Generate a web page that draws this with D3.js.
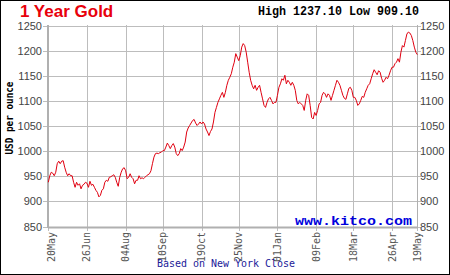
<!DOCTYPE html>
<html><head><meta charset="utf-8">
<script src="https://cdn.jsdelivr.net/npm/d3@7"></script>
<style>body{margin:0;background:#fff}svg{display:block}</style>
</head><body>
<script>
const titleText = "1 Year Gold";
const highLowText = "High 1237.10 Low 909.10";
const yLabel = "USD per ounce";
const sourceText = "Based on New York Close";
const brandText = "www.kitco.com";

const prices = [
 938, 951, 958, 956, 951, 958, 975, 980, 975, 980, 981, 968, 958, 951, 955, 951, 951, 938, 928, 938,
 932, 935, 925, 932, 934, 938, 936, 928, 940, 932, 934, 928, 922, 918, 909, 912, 922, 925, 938, 942,
 940, 948, 949, 951, 953, 948, 938,
 930, 948, 958, 965, 967, 961, 945, 948, 955, 948, 945, 935, 942, 942, 951, 945, 947, 945, 948, 951,
 953, 955, 961, 975, 988, 995, 996, 995, 997, 998, 1001, 1001, 1008, 1016, 1011, 1005, 1011, 1015, 1008, 995,
 991, 995, 1005, 1001, 1008, 1018, 1038, 1046,
 1051, 1056, 1061, 1063, 1056, 1051, 1054, 1058, 1054, 1058, 1054, 1044, 1038, 1031, 1039, 1044, 1058, 1077, 1087, 1097,
 1104, 1111, 1117, 1107, 1117, 1131, 1141, 1147, 1154, 1167, 1177, 1194, 1187, 1180, 1190, 1207, 1214, 1210, 1197, 1177,
 1157, 1141, 1131, 1124, 1131, 1121, 1127, 1131, 1117, 1104,
 1091, 1087, 1097, 1104, 1107, 1101, 1094, 1097, 1097, 1111, 1127, 1134, 1144, 1141, 1151, 1134, 1141, 1137, 1131, 1137,
 1131, 1121, 1101, 1094, 1097, 1094, 1091, 1081, 1101, 1114, 1111, 1091, 1067, 1064, 1077, 1071, 1081, 1094, 1097, 1111,
 1117, 1114, 1107, 1114, 1111, 1101, 1111, 1121, 1131, 1141, 1137,
 1131, 1121, 1111, 1105, 1103, 1114, 1125, 1127, 1121, 1107, 1107, 1101, 1091, 1094, 1101, 1109, 1107, 1117, 1124, 1131,
 1134, 1144, 1154, 1162, 1157, 1152, 1160, 1157, 1145, 1137, 1141, 1147, 1144, 1151, 1160, 1167, 1167, 1174, 1177, 1184,
 1177, 1197, 1210, 1207, 1220, 1233, 1237, 1235, 1230, 1220, 1207, 1197, 1192
];
const tickIndex = [0, 26, 52, 77, 103, 128, 154, 180, 205, 231, 248];
const tickLabels = ["20May", "26Jun", "04Aug", "10Sep", "19Oct", "25Nov", "01Jan", "09Feb", "18Mar", "26Apr", "19May"];
const yTicks = [850, 900, 950, 1000, 1050, 1100, 1150, 1200, 1250];

const W = 450, H = 275;
const L = 48, R = 417, T = 25, B = 227;
const svg = d3.select("body").append("svg").attr("width", W).attr("height", H);

svg.append("rect").attr("x", 0.5).attr("y", 0.5).attr("width", W - 1).attr("height", H - 1)
  .attr("fill", "#fff").attr("stroke", "#000").attr("stroke-width", 1);

const x = d3.scaleLinear().domain([0, prices.length - 1]).range([L + 0.3, R + 0.3]);
const y = d3.scaleLinear().domain([850, 1250]).range([B - 0.5, T + 0.5]);
const gridCol = "#bdbdbd";

// horizontal grid + side ticks
svg.append("g").selectAll("line").data(yTicks).join("line")
  .attr("x1", L - 5).attr("x2", R + 4)
  .attr("y1", d => Math.round(y(d)) + 0.5).attr("y2", d => Math.round(y(d)) + 0.5)
  .attr("stroke", gridCol).attr("stroke-width", 1);

// vertical grid + bottom ticks
svg.append("g").selectAll("line").data(tickIndex).join("line")
  .attr("x1", d => Math.round(x(d)) + 0.5).attr("x2", d => Math.round(x(d)) + 0.5)
  .attr("y1", T).attr("y2", B + 4)
  .attr("stroke", gridCol).attr("stroke-width", 1);

// frame
svg.append("line").attr("x1", L).attr("x2", L).attr("y1", T).attr("y2", B + 1)
  .attr("stroke", "#b0b0b0").attr("stroke-width", 2);
svg.append("line").attr("x1", L).attr("x2", R + 1).attr("y1", B + 0.5).attr("y2", B + 0.5)
  .attr("stroke", "#b0b0b0").attr("stroke-width", 2);
svg.append("line").attr("x1", R + 0.5).attr("x2", R + 0.5).attr("y1", T).attr("y2", B)
  .attr("stroke", "#b0b0b0").attr("stroke-width", 1);

// y labels
const yl = svg.append("g").attr("font-family", "Liberation Sans, Arial, sans-serif")
  .attr("font-size", 11).attr("fill", "#444");
yl.selectAll("text.l").data(yTicks).join("text").attr("class", "l")
  .attr("x", L - 6).attr("y", d => y(d) + 4).attr("text-anchor", "end").text(d => d);
yl.selectAll("text.r").data(yTicks).join("text").attr("class", "r")
  .attr("x", R + 3).attr("y", d => y(d) + 4).attr("text-anchor", "start").text(d => d);

// x labels
svg.append("g").selectAll("text").data(tickIndex).join("text")
  .attr("transform", (d, i) => `translate(${Math.max(x(d), L + 3.5)},${B + 5}) rotate(-90)`)
  .attr("text-anchor", "end").attr("dy", "0.35em")
  .attr("font-family", "DejaVu Sans Mono, Liberation Mono, monospace").attr("font-size", 10)
  .attr("fill", "#555").text((d, i) => tickLabels[i]);

// price line
svg.append("path").datum(prices)
  .attr("d", d3.line().x((d, i) => x(i)).y(d => y(d)))
  .attr("fill", "none").attr("stroke", "#e00010").attr("stroke-width", 1);

// texts
svg.append("text").attr("x", 20).attr("y", 17)
  .attr("font-family", "Liberation Sans, Arial, sans-serif").attr("font-weight", "bold")
  .attr("font-size", 17).attr("fill", "#e8000b").text(titleText);
svg.append("text").attr("x", 258).attr("y", 15)
  .attr("font-family", "Liberation Mono, DejaVu Sans Mono, monospace").attr("font-weight", "bold")
  .attr("font-size", 12).attr("textLength", 161).attr("lengthAdjust", "spacingAndGlyphs")
  .attr("fill", "#000").text(highLowText);
svg.append("text").attr("transform", "translate(12.5,118) rotate(-90)")
  .attr("text-anchor", "middle")
  .attr("font-family", "DejaVu Sans Mono, Liberation Mono, monospace").attr("font-weight", "bold")
  .attr("font-size", 10).attr("textLength", 73).attr("lengthAdjust", "spacingAndGlyphs")
  .attr("fill", "#000").text(yLabel);
svg.append("text").attr("x", 295).attr("y", 225)
  .attr("font-family", "Liberation Mono, DejaVu Sans Mono, monospace").attr("font-weight", "bold")
  .attr("font-size", 12).attr("textLength", 117).attr("lengthAdjust", "spacingAndGlyphs")
  .attr("fill", "#0000dd").text(brandText);
svg.append("text").attr("x", 157).attr("y", 267)
  .attr("font-family", "DejaVu Sans Mono, Liberation Mono, monospace")
  .attr("font-size", 10).attr("textLength", 138).attr("lengthAdjust", "spacingAndGlyphs")
  .attr("fill", "#1a1a99").text(sourceText);
</script>
</body></html>
